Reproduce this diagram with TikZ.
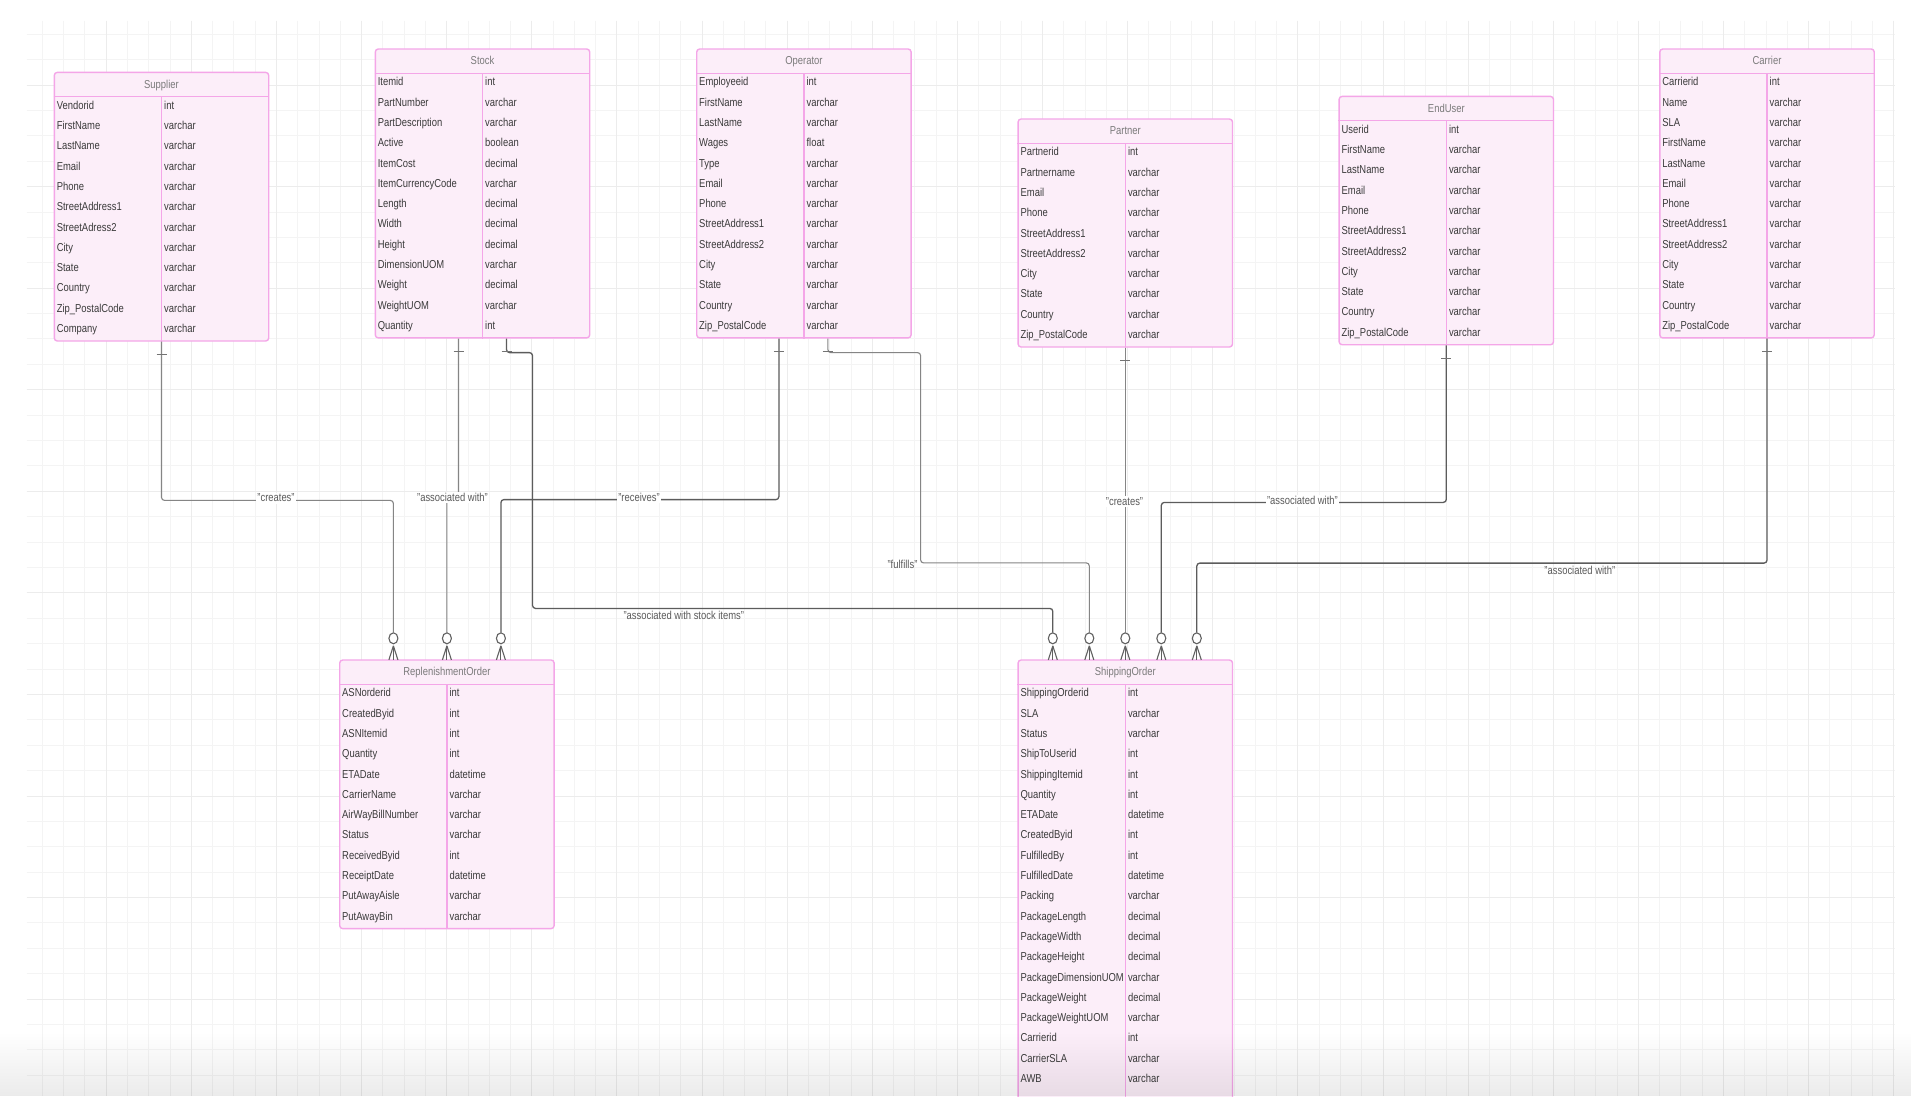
\documentclass[tikz,border=0pt]{standalone}
\usepackage{fontspec}
\setmainfont{Liberation Sans}[FakeStretch=0.82]
\usetikzlibrary{calc,shapes.geometric,fadings}

\definecolor{erdpink}{HTML}{F4A6E8}
\definecolor{erdfill}{HTML}{FCEEF9}
\definecolor{gridmin}{HTML}{F4F4F4}
\definecolor{gridmaj}{HTML}{ECECEC}
\definecolor{ttlgray}{HTML}{7A7A7A}
\definecolor{txtgray}{HTML}{3A3A3A}
\definecolor{lblgray}{HTML}{5A5A5A}

\tikzset{
  tbl/.style={draw=erdpink, fill=erdfill, line width=1.4pt, rounded corners=3pt,
    minimum width=214.4pt, inner sep=0pt, anchor=north west},
  tblline/.style={draw=erdpink, line width=1.4pt},
  ttl/.style={font=\fontsize{11.5}{13}\selectfont, text=ttlgray, inner sep=0pt, anchor=base},
  fld/.style={font=\fontsize{11.5}{13}\selectfont, text=txtgray, inner sep=0pt, anchor=base west},
  lbl/.style={font=\fontsize{11.5}{13}\selectfont, text=lblgray, fill=white, inner sep=1.5pt},
  lblfree/.style={font=\fontsize{11.5}{13}\selectfont, text=lblgray, inner sep=1pt},
  conn/.style={draw=black!48, line width=1.1pt, rounded corners=3pt},
  connd/.style={draw=black!64, line width=1.3pt, rounded corners=3pt},
  circ/.style={ellipse, draw=black!62, line width=1.1pt, fill=white,
    minimum width=9pt, minimum height=11pt, inner sep=0pt},
  foot/.style={draw=black!62, line width=1.1pt},
  onebar/.style={draw=black!55, line width=1.2pt},
  gminor/.style={draw=gridmin, line width=1pt},
  gmajor/.style={draw=gridmaj, line width=1pt},
}

% name, left, top, title, extra height, rows
\newcommand{\erdtable}[6]{%
  \def\nrows{0}%
  \foreach \fn/\ft [count=\i] in {#6}{\xdef\nrows{\i}}%
  \node[tbl, minimum height={25pt+\nrows*20.3pt+#5pt}] (#1) at (#2,#3) {};
  \draw[tblline] ($(#1.north west)+(0,25)$) -- ($(#1.north east)+(0,25)$);
  \draw[tblline] ($(#1.north)+(0,25)$) -- (#1.south);
  \node[ttl] (#1-title) at ($(#1.north)+(0,16.5)$) {#4};
  \foreach \fn/\ft [count=\i] in {#6}{%
    \node[fld] (#1-n\i) at ($(#1.north west)+(3,{25+(\i-1)*20.3+12.5})$) {\fn};
    \node[fld] (#1-t\i) at ($(#1.north)+(2.5,{25+(\i-1)*20.3+12.5})$) {\ft};
  }%
}
\newcommand{\onemark}[1]{\draw[onebar] ($(#1)+(-5,13)$) -- ($(#1)+(5,13)$);}
\newcommand{\crowfoot}[1]{%
  \draw[foot] ($(#1.south)+(0,1.5)$) -- ($(#1.south)+(-4.5,15.5)$);
  \draw[foot] ($(#1.south)+(0,1.5)$) -- ($(#1.south)+(0,15.5)$);
  \draw[foot] ($(#1.south)+(0,1.5)$) -- ($(#1.south)+(4.5,15.5)$);
}

\begin{document}
\begin{tikzpicture}[x=1pt,y=-1pt]
\useasboundingbox (0,0) rectangle (1918,1096);
\fill[white] (0,0) rectangle (1918,1096);

% grid
\foreach \k in {0,...,87} {\draw[gminor] ({42.4+21.28*\k},20.7) -- ({42.4+21.28*\k},1096);}
\foreach \k in {0,...,41} {\draw[gminor] (26.7,{34.3+25.39*\k}) -- (1895,{34.3+25.39*\k});}
\foreach \k in {3,7,...,87} {\draw[gmajor] ({42.4+21.28*\k},20.7) -- ({42.4+21.28*\k},1096);}
\foreach \k in {2,6,...,41} {\draw[gmajor] (26.7,{34.3+25.39*\k}) -- (1895,{34.3+25.39*\k});}

% tables
\erdtable{sup}{53.6}{71.7}{Supplier}{0}{Vendorid/int, FirstName/varchar, LastName/varchar, Email/varchar, Phone/varchar, StreetAddress1/varchar, StreetAdress2/varchar, City/varchar, State/varchar, Country/varchar, Zip\_PostalCode/varchar, Company/varchar}
\erdtable{stk}{374.6}{48.3}{Stock}{0}{Itemid/int, PartNumber/varchar, PartDescription/varchar, Active/boolean, ItemCost/decimal, ItemCurrencyCode/varchar, Length/decimal, Width/decimal, Height/decimal, DimensionUOM/varchar, Weight/decimal, WeightUOM/varchar, Quantity/int}
\erdtable{op}{696}{48.3}{Operator}{0}{Employeeid/int, FirstName/varchar, LastName/varchar, Wages/float, Type/varchar, Email/varchar, Phone/varchar, StreetAddress1/varchar, StreetAddress2/varchar, City/varchar, State/varchar, Country/varchar, Zip\_PostalCode/varchar}
\erdtable{par}{1017.4}{118.3}{Partner}{0}{Partnerid/int, Partnername/varchar, Email/varchar, Phone/varchar, StreetAddress1/varchar, StreetAddress2/varchar, City/varchar, State/varchar, Country/varchar, Zip\_PostalCode/varchar}
\erdtable{eu}{1338.4}{95.7}{EndUser}{0}{Userid/int, FirstName/varchar, LastName/varchar, Email/varchar, Phone/varchar, StreetAddress1/varchar, StreetAddress2/varchar, City/varchar, State/varchar, Country/varchar, Zip\_PostalCode/varchar}
\erdtable{car}{1659.1}{48.3}{Carrier}{0}{Carrierid/int, Name/varchar, SLA/varchar, FirstName/varchar, LastName/varchar, Email/varchar, Phone/varchar, StreetAddress1/varchar, StreetAddress2/varchar, City/varchar, State/varchar, Country/varchar, Zip\_PostalCode/varchar}
\erdtable{ro}{339}{659.3}{ReplenishmentOrder}{0}{ASNorderid/int, CreatedByid/int, ASNItemid/int, Quantity/int, ETADate/datetime, CarrierName/varchar, AirWayBillNumber/varchar, Status/varchar, ReceivedByid/int, ReceiptDate/datetime, PutAwayAisle/varchar, PutAwayBin/varchar}
\erdtable{so}{1017.4}{659.3}{ShippingOrder}{30}{ShippingOrderid/int, SLA/varchar, Status/varchar, ShipToUserid/int, ShippingItemid/int, Quantity/int, ETADate/datetime, CreatedByid/int, FulfilledBy/int, FulfilledDate/datetime, Packing/varchar, PackageLength/decimal, PackageWidth/decimal, PackageHeight/decimal, PackageDimensionUOM/varchar, PackageWeight/decimal, PackageWeightUOM/varchar, Carrierid/int, CarrierSLA/varchar, AWB/varchar}

% many-end markers
\foreach \k/\dx in {1/-53.5,2/0,3/54} {\node[circ] (ro-c\k) at ($(ro.north)+(\dx,-21)$) {};}
\foreach \k/\dx in {1/-72.5,2/-36,3/0,4/36,5/71.5} {\node[circ] (so-c\k) at ($(so.north)+(\dx,-21)$) {};}
\foreach \k in {1,2,3} {\crowfoot{ro-c\k}}
\foreach \k in {1,...,5} {\crowfoot{so-c\k}}

% start points
\coordinate (stk-a) at ($(stk.south)+(-24,0)$);
\coordinate (stk-b) at ($(stk.south)+(24,0)$);
\coordinate (op-a) at ($(op.south)+(-25,0)$);
\coordinate (op-b) at ($(op.south)+(24,0)$);

% connectors
\draw[conn] (sup.south) -- ($(sup.south)+(0,158.7)$) -| (ro-c1.north);
\draw[conn] (stk-a) -- ($(stk-a)+(0,160)$) -| (ro-c2.north);
\draw[connd] (op-a) -- ($(op-a)+(0,161)$) -| (ro-c3.north);
\draw[connd] (stk-b) -- ++(0,14) -- ++(26,0) -- ++(0,255.8) -| (so-c1.north);
\draw[conn] (op-b) -- ++(0,14) -- ++(92.7,0) -- ++(0,210.3) -| (so-c2.north);
\draw[conn] (so-c3.north |- par.south) -- (so-c3.north);
\draw[connd] (eu.south) -- ++(0,157) -| (so-c4.north);
\draw[connd] (car.south) -- ++(0,224.5) -| (so-c5.north);

% one-end marks
\onemark{sup.south}
\onemark{stk-a}
\onemark{stk-b}
\onemark{op-a}
\onemark{op-b}
\onemark{so-c3.north |- par.south}
\onemark{eu.south}
\onemark{car.south}

% labels
\node[lbl] (l-sup) at (276,498) {"creates"};
\node[lbl] (l-stk) at (452.5,497.5) {"associated with"};
\node[lbl] (l-op) at (639,497.5) {"receives"};
\node[lblfree] (l-stkso) at (683.8,615) {"associated with stock items"};
\node[lblfree] (l-ful) at (902.5,564.5) {"fulfills"};
\node[lbl] (l-par) at (1124.5,501.7) {"creates"};
\node[lbl] (l-eu) at (1302.4,500.8) {"associated with"};
\node[lblfree] (l-car) at (1579.8,570.5) {"associated with"};

% bottom shade overlay
\fill[black, opacity=0.08, path fading=north] (0,1032) rectangle (1918,1096);
\end{tikzpicture}
\end{document}
